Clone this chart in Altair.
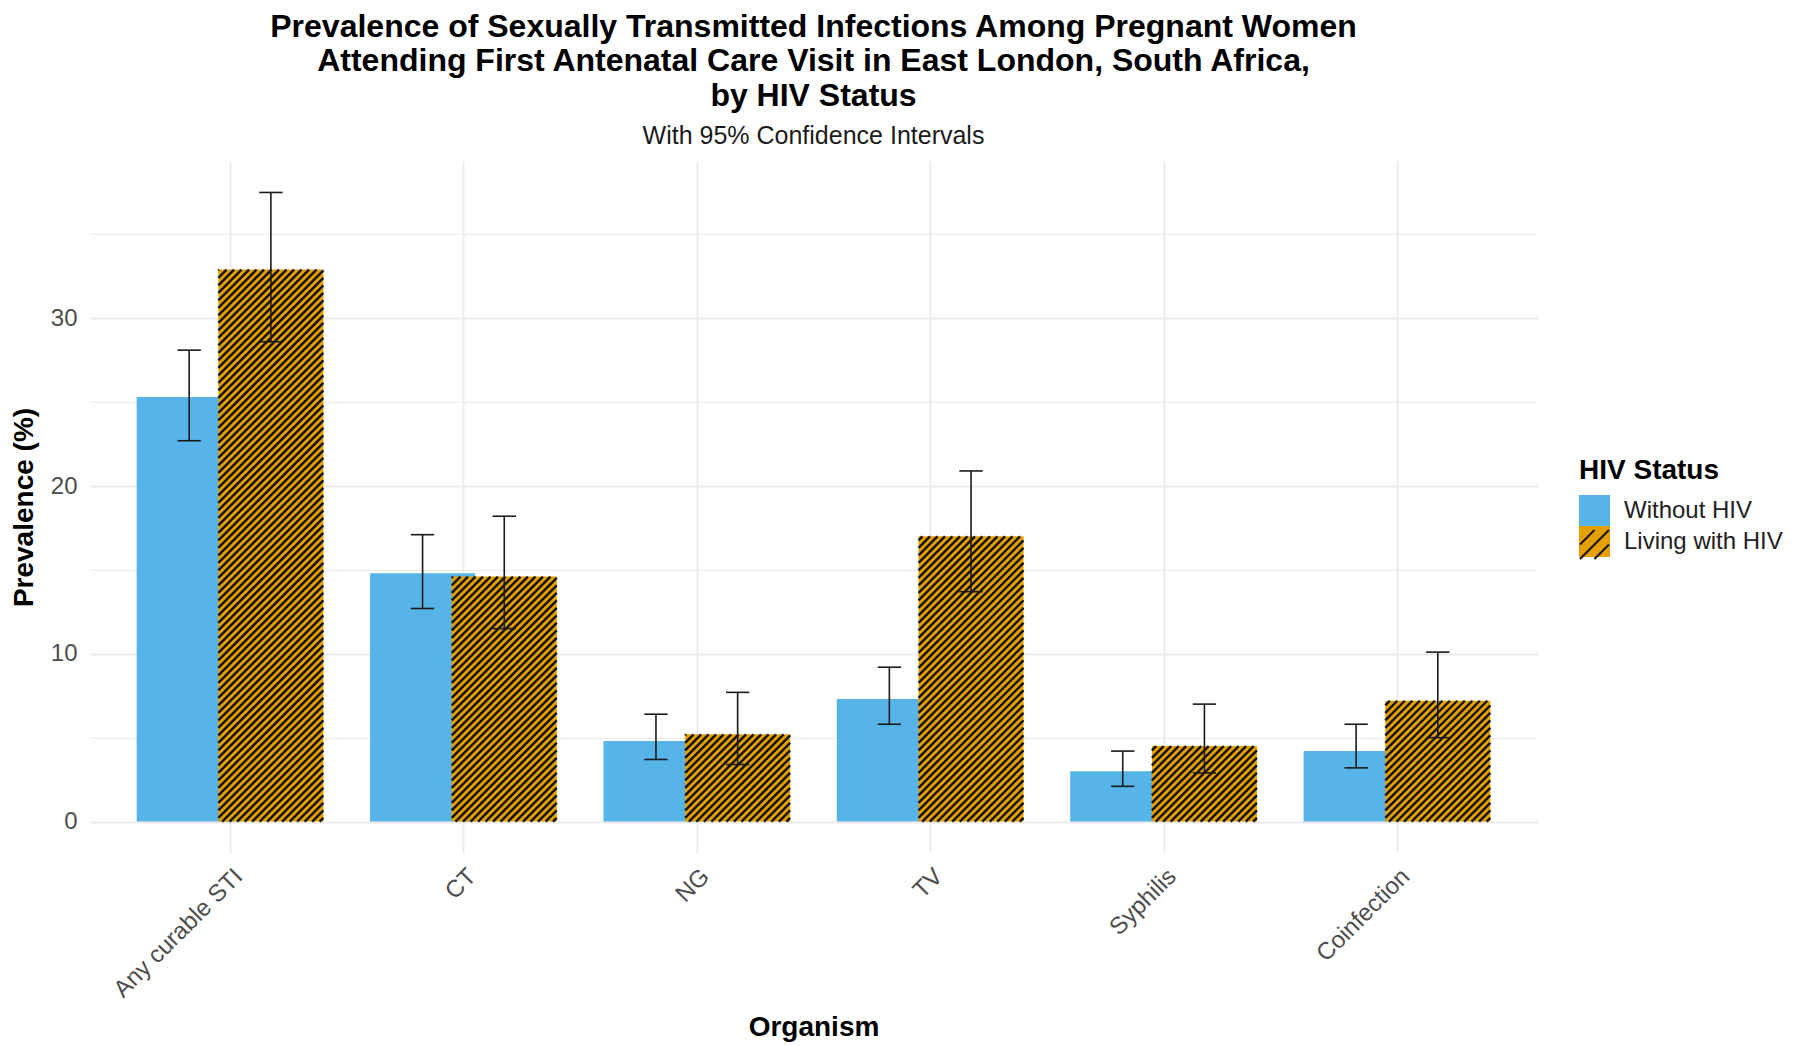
import altair as alt
import pandas as pd

# ---------------- data ----------------
organisms = ["Any curable STI", "CT", "NG", "TV", "Syphilis", "Coinfection"]
groups = ["Without HIV", "Living with HIV"]

prev_without = [25.3, 14.8, 4.8, 7.3, 3.0, 4.2]
lo_without = [22.7, 12.7, 3.7, 5.8, 2.1, 3.2]
hi_without = [28.1, 17.1, 6.4, 9.2, 4.2, 5.8]

prev_with = [32.9, 14.6, 5.2, 17.0, 4.5, 7.2]
lo_with = [28.6, 11.5, 3.4, 13.7, 2.9, 5.0]
hi_with = [37.5, 18.2, 7.7, 20.9, 7.0, 10.1]

y_tick_values = [0, 5, 10, 15, 20, 25, 30, 35]

title_lines = [
    "Prevalence of Sexually Transmitted Infections Among Pregnant Women",
    "Attending First Antenatal Care Visit in East London, South Africa,",
    "by HIV Status",
]
subtitle = "With 95% Confidence Intervals"

# ---------------- table ----------------
rows = []
for gi, (g, pv, lo, hi) in enumerate(
    [(groups[0], prev_without, lo_without, hi_without),
     (groups[1], prev_with, lo_with, hi_with)]
):
    for i, org in enumerate(organisms):
        rows.append(dict(organism=org, idx=i, group=g, side=(-1 if gi == 0 else 1),
                         prev=pv[i], lo=lo[i], hi=hi[i]))
df = pd.DataFrame(rows)

# ---------------- style / layout ----------------
BLUE = "#56B4E9"
ORANGE = "#E69F00"
INK = "#111111"
FONT = "Liberation Sans"
GRID = "#ebebeb"
PLOT_W, PLOT_H = 1447, 692
X_DOM = [-0.6, len(organisms) - 0.4]
Y_DOM = [-1.875, 39.375]
DODGE = 0.175
BAR_W = 0.45
CAP_W = 0.1
SX = PLOT_W / (X_DOM[1] - X_DOM[0])
SY = PLOT_H / (Y_DOM[1] - Y_DOM[0])
HATCH_P = 7.5          # horizontal period of the hatch, px
HATCH_W = 2.4          # hatch stroke width, px
LEG_X, LEG_Y = 1489, 296
HATCH_SYMBOL = "M-1,0L0,-1M-1,1L1,-1M0,1L1,0"

label_expr = "[" + ",".join("'" + o + "'" for o in organisms) + "][datum.value]"

x_axis = alt.Axis(
    values=list(range(len(organisms))), labelExpr=label_expr,
    labelAngle=-45, labelAlign="right", labelBaseline="top",
    labelFont=FONT, labelFontSize=24, labelColor="#4d4d4d", labelPadding=11,
    ticks=False, domain=False, grid=True, gridColor=GRID, gridWidth=1.8,
    title="Organism", titleFont=FONT, titleFontSize=28, titleFontWeight="bold",
    titleColor="black", titlePadding=12,
)
y_axis = alt.Axis(
    values=y_tick_values,
    labelExpr="datum.value % 10 === 0 ? datum.label : ''",
    labelFont=FONT, labelFontSize=24, labelColor="#4d4d4d", labelPadding=13,
    ticks=False, domain=False, grid=True, gridColor=GRID,
    gridWidth={"condition": {"test": "datum.value % 10 === 0", "value": 1.8}, "value": 1.0},
    title="Prevalence (%)", titleFont=FONT, titleFontSize=28, titleFontWeight="bold",
    titleColor="black", titlePadding=12,
)


def X(field):
    return alt.X(field + ":Q", scale=alt.Scale(domain=X_DOM, nice=False, zero=False),
                 axis=x_axis, title="Organism")


def Y(field):
    return alt.Y(field + ":Q", scale=alt.Scale(domain=Y_DOM, nice=False, zero=False),
                 axis=y_axis, title="Prevalence (%)")


legend_common = dict(
    title="HIV Status", orient="none", legendX=LEG_X,
    rowPadding=0, labelOffset=14,
    titleFont=FONT, titleFontSize=28, titleFontWeight="bold", titleColor="black",
    titlePadding=10, labelFont=FONT, labelFontSize=24, labelColor="#222222",
)
# swatch rows are 31px tall in both legends: sqrt(size) + strokeWidth = 31
legend_fill = alt.Legend(symbolType="square", symbolSize=961, symbolStrokeWidth=0,
                         symbolOpacity=1, zindex=0, legendY=LEG_Y, **legend_common)
# second legend that only draws the hatch lines over the orange swatch
legend_hatch = alt.Legend(symbolType=HATCH_SYMBOL, symbolSize=841, symbolStrokeWidth=2,
                          symbolFillColor="transparent", symbolOpacity=1,
                          titleOpacity=0, labelExpr="''", zindex=1,
                          legendY=LEG_Y - 3, **legend_common)

base = alt.Chart(df).transform_calculate(
    xc="datum.idx + datum.side * %f" % DODGE,
    xl="datum.xc - %f" % (BAR_W / 2),
    xr="datum.xc + %f" % (BAR_W / 2),
    zero="0",
)

bars = base.mark_rect().encode(
    x=X("xl"), x2="xr:Q", y=Y("prev"), y2="zero:Q",
    fill=alt.Fill("group:N", scale=alt.Scale(domain=groups, range=[BLUE, ORANGE]),
                  legend=legend_fill),
)

hatch = (
    base.transform_filter("datum.side == 1")
    .transform_calculate(
        wpx="%f" % (BAR_W * SX),
        hpx="datum.prev * %f" % SY,
        ks="sequence(0, 160)",
    )
    .transform_flatten(["ks"])
    .transform_calculate(
        c="-datum.wpx + datum.ks * %f + %f" % (HATCH_P, HATCH_P / 2),
    )
    .transform_calculate(
        X0="max(0, -datum.c)",
        X1="min(datum.wpx, datum.hpx - datum.c)",
    )
    .transform_filter("datum.X1 > datum.X0")
    .transform_calculate(
        hx="datum.xl + datum.X0 / %f" % SX,
        hx2="datum.xl + datum.X1 / %f" % SX,
        hy="(datum.X0 + datum.c) / %f" % SY,
        hy2="(datum.X1 + datum.c) / %f" % SY,
    )
    .mark_rule(strokeWidth=HATCH_W)
    .encode(
        x=X("hx"), x2="hx2:Q", y=Y("hy"), y2="hy2:Q",
        stroke=alt.Stroke("group:N",
                          scale=alt.Scale(domain=[" ", groups[1]], range=["transparent", INK]),
                          legend=legend_hatch),
    )
)

err = base.mark_rule(color="#1a1a1a", strokeWidth=1.6).encode(
    x=X("xc"), y=Y("lo"), y2="hi:Q"
)

caps = (
    base.transform_fold(["lo", "hi"], as_=["end", "yv"])
    .transform_calculate(cl="datum.xc - %f" % (CAP_W / 2), cr="datum.xc + %f" % (CAP_W / 2))
    .mark_rule(color="#1a1a1a", strokeWidth=1.6)
    .encode(x=X("cl"), x2="cr:Q", y=Y("yv"))
)

chart = (
    alt.layer(bars, hatch, err, caps)
    .properties(
        width=PLOT_W, height=PLOT_H,
        padding={"left": 2, "top": 2, "right": 10, "bottom": 0},
        background="white",
        title=alt.Title(
            text=title_lines, subtitle=subtitle, anchor="middle", frame="group",
            font=FONT, fontSize=32, fontWeight="bold", color="black", lineHeight=34.6,
            subtitleFont=FONT, subtitleFontSize=25, subtitleColor="#1a1a1a",
            subtitlePadding=11, offset=11,
        ),
    )
    .configure(font=FONT)
    .configure_view(stroke=None)
)

chart.save("out.html", embed_options={"renderer": "svg", "actions": False})
